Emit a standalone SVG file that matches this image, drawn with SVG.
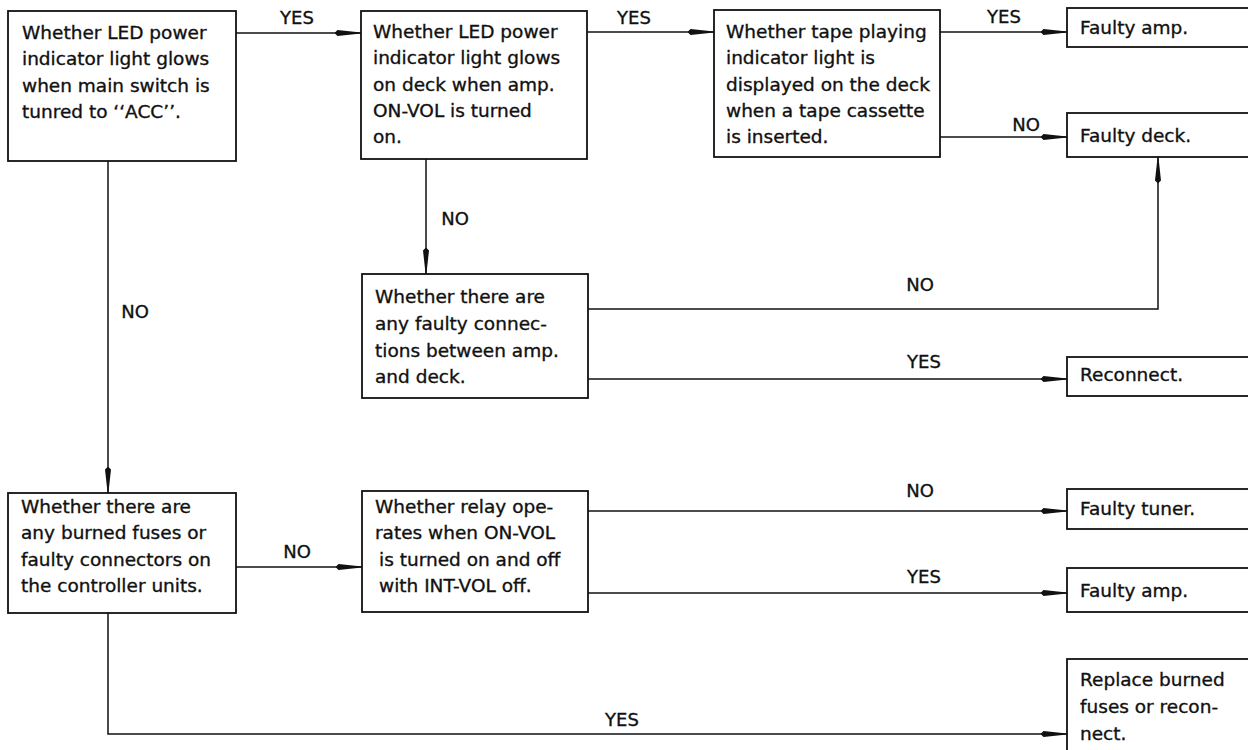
<svg xmlns="http://www.w3.org/2000/svg" width="1248" height="750" viewBox="0 0 1248 750">
<style>
.box{fill:#fff;stroke:#111;stroke-width:1.8}
.t{font-family:"DejaVu Sans",sans-serif;font-size:18.5px;fill:#111;stroke:#111;stroke-width:0.35}
.lbl{font-family:"DejaVu Sans",sans-serif;font-size:18px;fill:#111;stroke:#111;stroke-width:0.35;text-anchor:middle}
.c{fill:none;stroke:#111;stroke-width:1.5}
</style>
<defs>
<marker id="ah" markerUnits="userSpaceOnUse" viewBox="0 0 27 8" markerWidth="27" markerHeight="8" refX="26.5" refY="4" orient="auto">
<path d="M0,4 L3,1 L26.5,3.6 L26.5,4.4 L3,7 Z" fill="#111"/>
</marker>
</defs>
<rect width="1248" height="750" fill="#fff"/>
<g id="connectors">
<path class="c" d="M236,33 H361" marker-end="url(#ah)"/>
<path class="c" d="M587,32 H714" marker-end="url(#ah)"/>
<path class="c" d="M940,32 H1067" marker-end="url(#ah)"/>
<path class="c" d="M940,137 H1067" marker-end="url(#ah)"/>
<path class="c" d="M426,159 V274" marker-end="url(#ah)"/>
<path class="c" d="M588,309 H1158 V157" marker-end="url(#ah)"/>
<path class="c" d="M588,379 H1067" marker-end="url(#ah)"/>
<path class="c" d="M108,161 V493" marker-end="url(#ah)"/>
<path class="c" d="M236,567 H362" marker-end="url(#ah)"/>
<path class="c" d="M588,511 H1067" marker-end="url(#ah)"/>
<path class="c" d="M588,593 H1067" marker-end="url(#ah)"/>
<path class="c" d="M108,613 V734 H1067" marker-end="url(#ah)"/>
<text class="lbl" x="297" y="24">YES</text>
<text class="lbl" x="634" y="24">YES</text>
<text class="lbl" x="1004" y="23">YES</text>
<text class="lbl" x="1026" y="131">NO</text>
<text class="lbl" x="455" y="225">NO</text>
<text class="lbl" x="920" y="291">NO</text>
<text class="lbl" x="924" y="368">YES</text>
<text class="lbl" x="135" y="318">NO</text>
<text class="lbl" x="297" y="558">NO</text>
<text class="lbl" x="920" y="497">NO</text>
<text class="lbl" x="924" y="583">YES</text>
<text class="lbl" x="622" y="726">YES</text>
</g>
<g id="n1">
<rect class="box" x="8" y="11" width="228" height="150"/>
<text class="t" x="22" y="39">Whether LED power</text>
<text class="t" x="22" y="65">indicator light glows</text>
<text class="t" x="22" y="92">when main switch is</text>
<text class="t" x="22" y="118">tunred to ‘‘ACC’’.</text>
</g>
<g id="n2">
<rect class="box" x="361" y="11" width="226" height="148"/>
<text class="t" x="373" y="38">Whether LED power</text>
<text class="t" x="373" y="64">indicator light glows</text>
<text class="t" x="373" y="91">on deck when amp.</text>
<text class="t" x="373" y="117">ON-VOL is turned</text>
<text class="t" x="373" y="143">on.</text>
</g>
<g id="n3">
<rect class="box" x="714" y="10" width="226" height="147"/>
<text class="t" x="726" y="38">Whether tape playing</text>
<text class="t" x="726" y="64">indicator light is</text>
<text class="t" x="726" y="91">displayed on the deck</text>
<text class="t" x="726" y="117">when a tape cassette</text>
<text class="t" x="726" y="143">is inserted.</text>
</g>
<g id="n4">
<rect class="box" x="1067" y="8" width="200" height="39"/>
<text class="t" x="1080" y="34">Faulty amp.</text>
</g>
<g id="n5">
<rect class="box" x="1067" y="113" width="200" height="44"/>
<text class="t" x="1080" y="142">Faulty deck.</text>
</g>
<g id="n6">
<rect class="box" x="362" y="274" width="226" height="124"/>
<text class="t" x="375" y="303">Whether there are</text>
<text class="t" x="375" y="330">any faulty connec-</text>
<text class="t" x="375" y="357">tions between amp.</text>
<text class="t" x="375" y="383">and deck.</text>
</g>
<g id="n7">
<rect class="box" x="1067" y="357" width="200" height="39"/>
<text class="t" x="1080" y="381">Reconnect.</text>
</g>
<g id="n8">
<rect class="box" x="8" y="493" width="228" height="120"/>
<text class="t" x="21" y="513">Whether there are</text>
<text class="t" x="21" y="539">any burned fuses or</text>
<text class="t" x="21" y="566">faulty connectors on</text>
<text class="t" x="21" y="592">the controller units.</text>
</g>
<g id="n9">
<rect class="box" x="362" y="491" width="226" height="121"/>
<text class="t" x="375" y="513">Whether relay ope-</text>
<text class="t" x="375" y="539">rates when ON-VOL</text>
<text class="t" x="379" y="566">is turned on and off</text>
<text class="t" x="379" y="592">with INT-VOL off.</text>
</g>
<g id="n10">
<rect class="box" x="1067" y="489" width="200" height="40"/>
<text class="t" x="1080" y="515">Faulty tuner.</text>
</g>
<g id="n11">
<rect class="box" x="1067" y="568" width="200" height="44"/>
<text class="t" x="1080" y="597">Faulty amp.</text>
</g>
<g id="n12">
<rect class="box" x="1067" y="659" width="200" height="120"/>
<text class="t" x="1080" y="686">Replace burned</text>
<text class="t" x="1080" y="713">fuses or recon-</text>
<text class="t" x="1080" y="740">nect.</text>
</g>
</svg>
